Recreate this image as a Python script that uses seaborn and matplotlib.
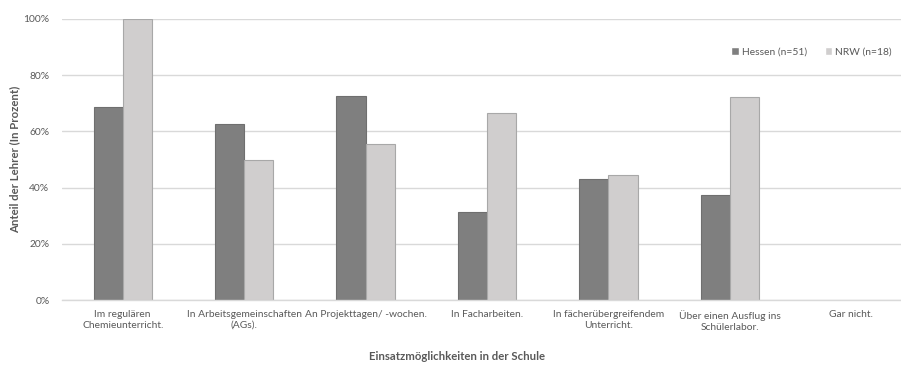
import matplotlib
matplotlib.use("Agg")
import matplotlib.pyplot as plt
import seaborn as sns
import pandas as pd
from matplotlib.ticker import PercentFormatter

categories = [
    "Im regulären\nChemieunterricht.",
    "In Arbeitsgemeinschaften\n(AGs).",
    "An Projekttagen/ -wochen.",
    "In Facharbeiten.",
    "In fächerübergreifendem\nUnterricht.",
    "Über einen Ausflug ins\nSchülerlabor.",
    "Gar nicht.",
]
series_names = ["Hessen (n=51)", "NRW (n=18)"]
hessen = [35 / 51, 32 / 51, 37 / 51, 16 / 51, 22 / 51, 19 / 51, 0.0]
nrw = [18 / 18, 9 / 18, 10 / 18, 12 / 18, 8 / 18, 13 / 18, 0.0]
y_ticks = [0.0, 0.2, 0.4, 0.6, 0.8, 1.0]

df = pd.DataFrame({
    "Kategorie": categories * 2,
    "Gruppe": [series_names[0]] * len(categories) + [series_names[1]] * len(categories),
    "Anteil": hessen + nrw,
})

sns.set_theme(style="white")
plt.rcParams["font.family"] = ["Lato", "DejaVu Sans"]

text_gray = "#595959"
fs_tick = 7.4
fs_title = 8.2
fig = plt.figure(figsize=(9.01, 3.67), dpi=100)
ax = fig.add_axes([62 / 901, 1 - 300 / 367, 850 / 901, (300 - 19) / 367])

palette = {series_names[0]: "#7f7f7f", series_names[1]: "#d0cece"}
sns.barplot(data=df, x="Kategorie", y="Anteil", hue="Gruppe", palette=palette,
            width=0.48, ax=ax, saturation=1, legend=True)

edge_colors = ["#6f6f6f"] * len(categories) + ["#a8a8a8"] * len(categories)
for patch, ec in zip(ax.patches, edge_colors):
    if patch.get_height() > 0:
        patch.set_edgecolor(ec)
        patch.set_linewidth(0.8)
    else:
        patch.set_linewidth(0)

ax.set_ylim(0, 1.0)
ax.set_xlim(-0.5, len(categories) - 0.5)
ax.set_yticks(y_ticks)
ax.yaxis.set_major_formatter(PercentFormatter(1.0, decimals=0))
ax.grid(axis="y", color="#d9d9d9", linewidth=1.0)
ax.set_axisbelow(True)
for side in ["top", "right", "left"]:
    ax.spines[side].set_visible(False)
ax.spines["bottom"].set_color("#d9d9d9")
ax.spines["bottom"].set_linewidth(1.0)
ax.tick_params(axis="both", length=0, colors=text_gray, labelsize=fs_tick)
ax.tick_params(axis="y", pad=9)
ax.tick_params(axis="x", pad=7)
for lbl in ax.get_xticklabels():
    lbl.set_linespacing(1.3)

ax.set_xlabel("")
ax.set_ylabel("Anteil der Lehrer (In Prozent)", fontsize=fs_title, fontweight="bold",
              color=text_gray)
ax.yaxis.set_label_coords(-42 / 850, 0.5)
fig.text(457 / 901, 1 - 357 / 367, "Einsatzmöglichkeiten in der Schule",
         ha="center", va="center", fontsize=fs_title, fontweight="bold", color=text_gray)

leg = ax.legend(loc="upper left", bbox_to_anchor=(726 / 901, 1 - 42 / 367),
                bbox_transform=fig.transFigure, ncol=2, frameon=False,
                fontsize=fs_tick, handlelength=0.75, handleheight=0.75,
                handletextpad=0.3, columnspacing=1.7, borderpad=0)
for txt in leg.get_texts():
    txt.set_color(text_gray)

fig.savefig("out.png", dpi=100)
